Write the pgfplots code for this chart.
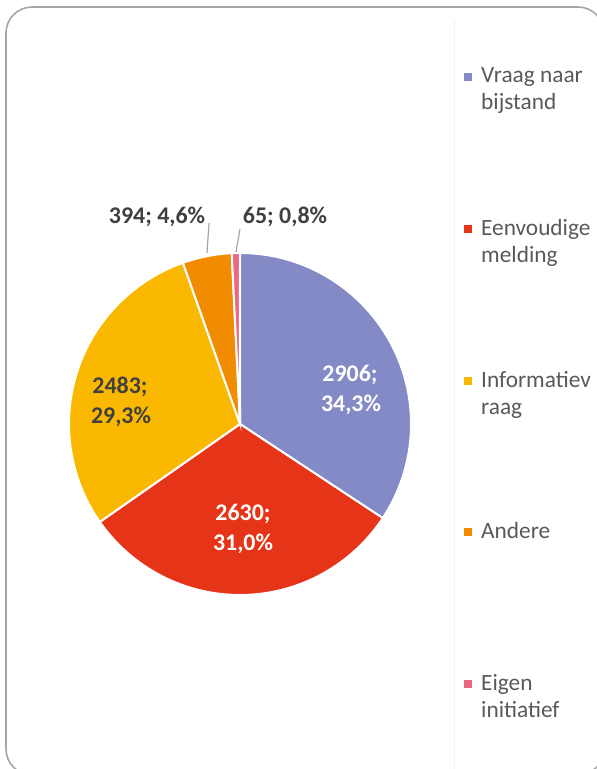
\documentclass[border=0pt]{standalone}
\usepackage{pgfplots}
\pgfplotsset{compat=1.18}
\usepackage{pgfplotstable}
\usepackage{fontspec}
\setmainfont{Carlito}

\definecolor{slice0}{RGB}{132,138,197}
\definecolor{slice1}{RGB}{229,52,23}
\definecolor{slice2}{RGB}{250,184,0}
\definecolor{slice3}{RGB}{241,139,0}
\definecolor{slice4}{RGB}{236,104,128}
\definecolor{lbl}{RGB}{64,64,64}
\definecolor{legtxt}{RGB}{89,89,89}
\definecolor{frame}{RGB}{166,166,166}

% counts per category
\pgfplotstableread{
value
2906
2630
2483
394
65
}\piedata

% total and slice angles (start at top, clockwise)
\xdef\total{0}
\foreach \i in {0,...,4}{%
  \pgfplotstablegetelem{\i}{value}\of\piedata
  \pgfmathsetmacro\t{\total+\pgfplotsretval}%
  \xdef\total{\t}%
}
\xdef\acc{90}
\foreach \i in {0,...,4}{%
  \pgfplotstablegetelem{\i}{value}\of\piedata
  \pgfmathsetmacro\e{\acc-360*(\pgfplotsretval/\total)}%
  \expandafter\xdef\csname angA\i\endcsname{\acc}%
  \expandafter\xdef\csname angB\i\endcsname{\e}%
  \xdef\acc{\e}%
}

\begin{document}
\begin{tikzpicture}
\begin{axis}[
    scale only axis, width=597bp, height=769bp,
    xmin=0, xmax=597, ymin=0, ymax=769,
    y dir=reverse, hide axis, clip=false,
]
% frame and legend divider
\draw[frame, line width=1.6bp, rounded corners=26bp] (axis cs:6,7) rectangle (axis cs:604,775);
\draw[black!5, line width=0.8bp] (axis cs:454,20) -- (axis cs:454,769);

% slices
\pgfplotsinvokeforeach{0,...,4}{
  \fill[slice#1, draw=white, line width=2bp] (axis cs:240,424)
    -- ++(\csname angA#1\endcsname:171bp)
    arc[start angle=\csname angA#1\endcsname, end angle=\csname angB#1\endcsname, radius=171bp]
    -- cycle;
}

% data labels
\tikzset{dl/.style={font=\fontsize{24}{28}\selectfont\bfseries, inner sep=0pt}}
\node[dl, white] at (axis cs:350,375) {2906;};
\node[dl, white] at (axis cs:351,405) {34,3\%};
\node[dl, white] at (axis cs:243,514) {2630;};
\node[dl, white] at (axis cs:243,544) {31,0\%};
\node[dl, lbl] at (axis cs:120,387) {2483;};
\node[dl, lbl] at (axis cs:121,417) {29,3\%};
\node[dl, lbl] at (axis cs:157,217) {394; 4,6\%};
\node[dl, lbl] at (axis cs:285,217) {65; 0,8\%};
\draw[frame, line width=1.2bp] (axis cs:209,223) -- (axis cs:207,253);
\draw[frame, line width=1.2bp] (axis cs:240,229) -- (axis cs:236,252);

% legend
\tikzset{lg/.style={font=\fontsize{23.4}{27}\selectfont, text=legtxt, anchor=base west, inner sep=0pt}}
\fill[slice0] (axis cs:464,73) rectangle (axis cs:472,81);
\node[lg] at (axis cs:481,83) {Vraag naar};
\node[lg] at (axis cs:481,110) {bijstand};
\fill[slice1] (axis cs:464,225) rectangle (axis cs:472,233);
\node[lg] at (axis cs:481,235) {Eenvoudige};
\node[lg] at (axis cs:481,262) {melding};
\fill[slice2] (axis cs:464,377) rectangle (axis cs:472,385);
\node[lg] at (axis cs:481,387) {Informatiev};
\node[lg] at (axis cs:481,414) {raag};
\fill[slice3] (axis cs:464,528) rectangle (axis cs:472,536);
\node[lg] at (axis cs:481,538) {Andere};
\fill[slice4] (axis cs:464,680) rectangle (axis cs:472,688);
\node[lg] at (axis cs:481,690) {Eigen};
\node[lg] at (axis cs:481,717) {initiatief};
\end{axis}
\pgfresetboundingbox
\path (0,0) rectangle (597bp,769bp);
\end{tikzpicture}
\end{document}
